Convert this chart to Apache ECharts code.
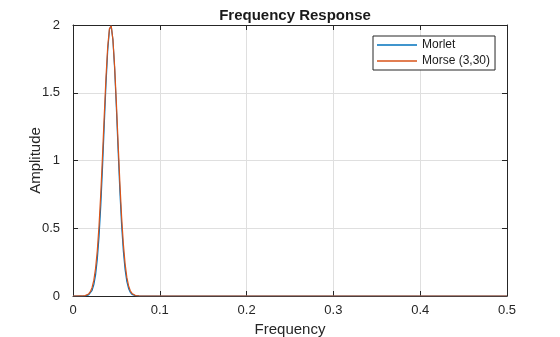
<!DOCTYPE html>
<html>
<head>
<meta charset="utf-8">
<script src="https://cdn.jsdelivr.net/npm/echarts@6/dist/echarts.min.js"></script>
<style>
html,body{margin:0;padding:0;background:#fff;overflow:hidden;}
#chart{width:560px;height:337px;}
</style>
</head>
<body>
<div id="chart"></div>
<script>
var freq   = [0, 0.010, 0.012, 0.014, 0.016, 0.018, 0.020, 0.022, 0.024, 0.026, 0.028, 0.030, 0.032, 0.034, 0.036, 0.038, 0.040, 0.042, 0.044, 0.046, 0.048, 0.050, 0.052, 0.054, 0.056, 0.058, 0.060, 0.062, 0.064, 0.066, 0.068, 0.070, 0.072, 0.074, 0.076, 0.080, 0.5];
var morlet = [0, 0, 0.0004, 0.0014, 0.0036, 0.0087, 0.0198, 0.042, 0.084, 0.156, 0.271, 0.440, 0.668, 0.949, 1.260, 1.564, 1.814, 1.967, 1.994, 1.889, 1.673, 1.385, 1.072, 0.775, 0.524, 0.332, 0.196, 0.108, 0.056, 0.027, 0.012, 0.005, 0.002, 0.0006, 0.0002, 0, 0];
var morse  = [0, 0.0002, 0.0011, 0.0029, 0.0068, 0.0152, 0.0319, 0.063, 0.117, 0.204, 0.336, 0.520, 0.756, 1.035, 1.332, 1.615, 1.841, 1.974, 1.993, 1.892, 1.690, 1.421, 1.123, 0.836, 0.585, 0.385, 0.239, 0.139, 0.076, 0.039, 0.019, 0.0087, 0.0038, 0.0015, 0.0005, 0, 0];
var seriesNames = ['Morlet', 'Morse (3,30)'];
var xTicks = [0, 0.1, 0.2, 0.3, 0.4, 0.5];
var yTicks = [0, 0.5, 1, 1.5, 2];

function pairs(xs, ys){ return xs.map(function(x,i){ return [x, ys[i]]; }); }

var axisColor = '#262626';
var font = 'Liberation Sans, Arial, Helvetica, sans-serif';

var chart = echarts.init(document.getElementById('chart'), null, {renderer:'canvas', width:560, height:337});
chart.setOption({
  animation: false,
  backgroundColor: '#ffffff',
  title: {
    text: 'Frequency Response',
    left: 290, top: 3, textAlign: 'center',
    textStyle: {fontFamily: font, fontSize: 15, fontWeight: 'bold', color: '#1a1a1a'}
  },
  grid: {left: 73, right: 53, top: 25, bottom: 41, containLabel: false, outerBoundsMode: 'none'},
  legend: {
    orient: 'vertical',
    left: 373, top: 36,
    padding: [2, 5, 2, 4],
    itemGap: 2,
    itemWidth: 40, itemHeight: 1.5,
    icon: 'rect',
    borderColor: axisColor, borderWidth: 1,
    backgroundColor: '#ffffff',
    textStyle: {fontFamily: font, fontSize: 12, color: '#1a1a1a', lineHeight: 14},
    data: seriesNames
  },
  xAxis: [{
    type: 'value', min: xTicks[0], max: xTicks[xTicks.length-1], interval: 0.1,
    name: 'Frequency', nameLocation: 'middle', nameGap: 26, nameMoveOverlap: false,
    nameTextStyle: {fontFamily: font, fontSize: 15, color: '#262626'},
    axisLine: {show: true, onZero: false, lineStyle: {color: axisColor, width: 1}},
    axisTick: {show: true, inside: true, length: 5, lineStyle: {color: axisColor}},
    axisLabel: {fontFamily: font, fontSize: 13, color: '#262626', margin: 8},
    splitLine: {show: true, lineStyle: {color: '#dfdfdf', width: 1}}
  }, {
    type: 'value', position: 'top', min: xTicks[0], max: xTicks[xTicks.length-1], interval: 0.1,
    axisLine: {show: true, onZero: false, lineStyle: {color: axisColor, width: 1}},
    axisTick: {show: true, inside: true, length: 5, lineStyle: {color: axisColor}},
    axisLabel: {show: false}, splitLine: {show: false}
  }],
  yAxis: [{
    type: 'value', min: yTicks[0], max: yTicks[yTicks.length-1], interval: 0.5,
    name: 'Amplitude', nameLocation: 'middle', nameGap: 30, nameRotate: 90, nameMoveOverlap: false,
    nameTextStyle: {fontFamily: font, fontSize: 15, color: '#262626'},
    axisLine: {show: true, onZero: false, lineStyle: {color: axisColor, width: 1}},
    axisTick: {show: true, inside: true, length: 5, lineStyle: {color: axisColor}},
    axisLabel: {fontFamily: font, fontSize: 13, color: '#262626', margin: 13},
    splitLine: {show: true, lineStyle: {color: '#dfdfdf', width: 1}}
  }, {
    type: 'value', position: 'right', min: yTicks[0], max: yTicks[yTicks.length-1], interval: 0.5,
    axisLine: {show: true, onZero: false, lineStyle: {color: axisColor, width: 1}},
    axisTick: {show: true, inside: true, length: 5, lineStyle: {color: axisColor}},
    axisLabel: {show: false}, splitLine: {show: false}
  }],
  series: [{
    name: seriesNames[0], type: 'line', xAxisIndex: 0, yAxisIndex: 0,
    data: pairs(freq, morlet), showSymbol: false, smooth: false,
    lineStyle: {color: '#0072BD', width: 1.2}, itemStyle: {color: '#0072BD'}
  }, {
    name: seriesNames[1], type: 'line', xAxisIndex: 0, yAxisIndex: 0,
    data: pairs(freq, morse), showSymbol: false, smooth: false,
    lineStyle: {color: '#D95319', width: 1.2}, itemStyle: {color: '#D95319'}
  }]
});
</script>
</body>
</html>
